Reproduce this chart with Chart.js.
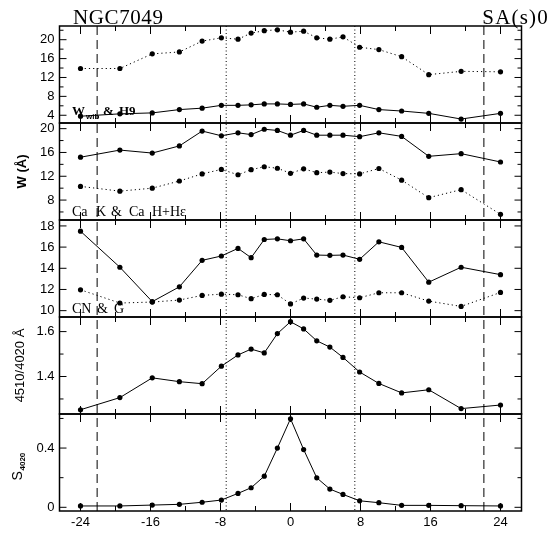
<!DOCTYPE html>
<html>
<head>
<meta charset="utf-8">
<script src="https://cdn.jsdelivr.net/npm/chart.js@4"></script>
<style>
  html, body { margin: 0; background: #fff; }
  #wrap { width: 550px; height: 533px; }
</style>
</head>
<body>
<div id="wrap"><canvas id="c"></canvas></div>
<script>
// radius along the slit (arcsec)
const radius = [-24, -19.5, -15.8, -12.7, -10.1, -7.9, -6.0, -4.5, -3.0, -1.5, 0, 1.5, 3.0, 4.5, 6.0, 7.9, 10.1, 12.7, 15.8, 19.5, 24];

// panel 1: W_wib & H9
const h9 = [13.9, 13.9, 17.0, 17.4, 19.7, 20.4, 20.1, 21.4, 21.9, 22.1, 21.6, 21.8, 20.4, 20.1, 20.6, 18.4, 17.9, 16.4, 12.6, 13.3, 13.2];
const wWib = [3.8, 4.3, 4.5, 5.2, 5.5, 6.1, 6.1, 6.2, 6.4, 6.4, 6.3, 6.4, 5.7, 6.1, 5.9, 6.1, 5.2, 4.9, 4.4, 3.2, 4.4];

// panel 2: Ca K & Ca H+He
const caK = [15.2, 16.4, 15.9, 17.1, 19.6, 18.8, 19.3, 19.0, 19.9, 19.7, 18.9, 19.7, 18.9, 18.9, 18.9, 18.65, 19.3, 18.7, 15.35, 15.8, 14.4];
const caH = [10.3, 9.5, 10.0, 11.2, 12.4, 13.15, 12.25, 13.1, 13.6, 13.35, 12.5, 13.25, 12.6, 12.7, 12.45, 12.4, 13.3, 11.35, 8.4, 9.75, 5.6];

// panel 3: CN & G
const cn = [17.5, 14.1, 10.85, 12.25, 14.75, 15.16, 15.88, 15.0, 16.72, 16.78, 16.6, 16.78, 15.25, 15.22, 15.25, 14.85, 16.5, 15.97, 12.69, 14.1, 13.4];
const gBand = [11.97, 10.72, 10.81, 11.0, 11.44, 11.56, 11.5, 11.13, 11.53, 11.5, 10.63, 11.19, 11.09, 10.97, 11.31, 11.22, 11.69, 11.69, 10.9, 10.4, 11.72];

// panel 4: 4510/4020 colour
const ratio = [1.252, 1.306, 1.394, 1.377, 1.368, 1.446, 1.496, 1.522, 1.505, 1.591, 1.644, 1.612, 1.559, 1.531, 1.485, 1.420, 1.369, 1.327, 1.341, 1.257, 1.273];

// panel 5: S4020
const s4020 = [0.009, 0.009, 0.015, 0.02, 0.034, 0.049, 0.094, 0.132, 0.21, 0.40, 0.598, 0.39, 0.199, 0.123, 0.087, 0.044, 0.031, 0.013, 0.013, 0.011, 0.009];

// ticks
const xTicks = [-24, -20, -16, -12, -8, -4, 0, 4, 8, 12, 16, 20, 24];
const xLabels = [-24, -16, -8, 0, 8, 16, 24];
const y1Ticks = [4, 6, 8, 10, 12, 14, 16, 18, 20, 22];
const y1Labels = [4, 8, 12, 16, 20];
const y2Ticks = [6, 8, 10, 12, 14, 16, 18, 20];
const y2Labels = [8, 12, 16, 20];
const y3Ticks = [10, 12, 14, 16, 18];
const y3Labels = [10, 12, 14, 16, 18];
const y4Ticks = [1.3, 1.4, 1.5, 1.6];
const y4Labels = [1.4, 1.6];
const y5Ticks = [0, 0.2, 0.4, 0.6];
const y5Labels = [0, 0.4];

// reference radii
const dashedAt = [-22.1, 22.1];
const dottedAt = [-7.35, 7.35];

const pts = arr => radius.map((r, i) => ({ x: r, y: arr[i] }));

function series(arr, axis, dotted) {
    return {
        data: pts(arr),
        yAxisID: axis,
        borderColor: '#000',
        borderWidth: 1,
        borderDash: dotted ? [1.2, 3] : [],
        pointRadius: 2.6,
        pointBackgroundColor: '#000',
        pointBorderWidth: 0,
        tension: 0,
        fill: false
    };
}

const has = (list, v) => list.some(t => Math.abs(t - v) < 1e-6);

function yAxis(min, max, ticks, labels, fmt) {
    return {
        type: 'linear',
        position: 'left',
        stack: 'panels',
        min: min,
        max: max,
        grid: { display: false, drawTicks: false },
        border: { display: false },
        afterBuildTicks: s => { s.ticks = ticks.map(v => ({ value: v })); },
        afterFit: s => { s.width = 59.5; },
        ticks: {
            autoSkip: false,
            padding: 5,
            color: '#000',
            font: { family: 'Liberation Sans', size: 13 },
            callback: v => has(labels, v) ? fmt(v) : ''
        }
    };
}

const panelTicks = {
    y1: [y1Ticks, y1Labels], y2: [y2Ticks, y2Labels], y3: [y3Ticks, y3Labels],
    y4: [y4Ticks, y4Labels], y5: [y5Ticks, y5Labels]
};

const framePlugin = {
    id: 'frames',
    beforeDatasetsDraw(chart) {
        const ctx = chart.ctx;
        const a = chart.chartArea;
        const xs = chart.scales.x;
        ctx.save();
        ctx.strokeStyle = '#000';
        ctx.lineWidth = 1;
        ctx.setLineDash([9, 5]);
        dashedAt.forEach(v => {
            const px = xs.getPixelForValue(v);
            ctx.beginPath(); ctx.moveTo(px, a.top); ctx.lineTo(px, a.bottom); ctx.stroke();
        });
        ctx.setLineDash([1, 2.5]);
        dottedAt.forEach(v => {
            const px = xs.getPixelForValue(v);
            ctx.beginPath(); ctx.moveTo(px, a.top); ctx.lineTo(px, a.bottom); ctx.stroke();
        });
        ctx.restore();
    },
    afterDraw(chart) {
        const ctx = chart.ctx;
        const a = chart.chartArea;
        const xs = chart.scales.x;
        ctx.save();
        ctx.strokeStyle = '#000';
        ctx.setLineDash([]);
        Object.keys(panelTicks).forEach(id => {
            const s = chart.scales[id];
            const [tv, lv] = panelTicks[id];
            ctx.lineWidth = 1.5;
            ctx.strokeRect(a.left, s.top, a.right - a.left, s.bottom - s.top);
            ctx.lineWidth = 1;
            ctx.beginPath();
            xTicks.forEach(v => {
                const px = xs.getPixelForValue(v);
                const len = has(xLabels, v) ? 8 : 5;
                ctx.moveTo(px, s.top); ctx.lineTo(px, s.top + len);
                ctx.moveTo(px, s.bottom); ctx.lineTo(px, s.bottom - len);
            });
            tv.forEach(v => {
                const py = s.getPixelForValue(v);
                const len = has(lv, v) ? 7 : 4;
                ctx.moveTo(a.left, py); ctx.lineTo(a.left + len, py);
                ctx.moveTo(a.right, py); ctx.lineTo(a.right - len, py);
            });
            ctx.stroke();
        });

        ctx.fillStyle = '#000';
        // header
        ctx.font = '21px "Liberation Serif"';
        ctx.textBaseline = 'alphabetic';
        ctx.letterSpacing = '0.6px';
        ctx.textAlign = 'left';
        ctx.fillText('NGC7049', 73, 24);
        ctx.textAlign = 'right';
        ctx.letterSpacing = '1.2px';
        ctx.fillText('SA(s)0', 549, 24);
        ctx.letterSpacing = '0px';

        // panel labels
        ctx.textAlign = 'left';
        ctx.textBaseline = 'middle';
        const p1 = chart.scales.y1, p2 = chart.scales.y2, p3 = chart.scales.y3;
        ctx.font = 'bold 13px "Liberation Serif"';
        ctx.fillText('W', 72, p1.bottom - 11);
        ctx.font = 'bold 8px "Liberation Sans"';
        ctx.fillText('wib', 86, p1.bottom - 6);
        ctx.font = 'bold 13px "Liberation Serif"';
        ctx.fillText('&', 103, p1.bottom - 11);
        ctx.fillText('H9', 119, p1.bottom - 11);

        ctx.font = '14px "Liberation Serif"';
        ctx.fillText('Ca', 72, p2.bottom - 8);
        ctx.fillText('K', 96, p2.bottom - 8);
        ctx.fillText('&', 111, p2.bottom - 8);
        ctx.fillText('Ca', 129, p2.bottom - 8);
        ctx.fillText('H+H\u03b5', 152, p2.bottom - 8);

        ctx.fillText('CN', 72, p3.bottom - 8);
        ctx.fillText('&', 97, p3.bottom - 8);
        ctx.fillText('G', 114, p3.bottom - 8);

        // axis titles
        const p4 = chart.scales.y4, p5 = chart.scales.y5;
        ctx.textAlign = 'center';
        ctx.save();
        ctx.translate(22, (p2.top + p2.bottom) / 2);
        ctx.rotate(-Math.PI / 2);
        ctx.font = 'bold 13px "Liberation Sans"';
        ctx.fillText('W (\u00c5)', 0, 0);
        ctx.restore();

        ctx.save();
        ctx.translate(20, (p4.top + p4.bottom) / 2);
        ctx.rotate(-Math.PI / 2);
        ctx.font = '13px "Liberation Sans"';
        ctx.fillText('4510/4020 \u00c5', 0, 0);
        ctx.restore();

        ctx.save();
        ctx.translate(18, (p5.top + p5.bottom) / 2);
        ctx.rotate(-Math.PI / 2);
        ctx.textAlign = 'left';
        ctx.font = '14px "Liberation Sans"';
        ctx.fillText('S', -18, 0);
        ctx.font = 'bold 8px "Liberation Sans"';
        ctx.fillText('4020', -8, 5);
        ctx.restore();

        ctx.restore();
    }
};

new Chart(document.getElementById('c'), {
    type: 'line',
    data: {
        datasets: [
            series(h9, 'y1', true),
            series(wWib, 'y1', false),
            series(caK, 'y2', false),
            series(caH, 'y2', true),
            series(cn, 'y3', false),
            series(gBand, 'y3', true),
            series(ratio, 'y4', false),
            series(s4020, 'y5', false)
        ]
    },
    options: {
        responsive: true,
        maintainAspectRatio: false,
        animation: false,
        layout: { padding: { top: 26, right: 28.5, left: 0, bottom: 0 } },
        plugins: { legend: { display: false }, tooltip: { enabled: false } },
        scales: {
            x: {
                type: 'linear',
                min: -26.4,
                max: 26.4,
                grid: { display: false, drawTicks: false },
                border: { display: false },
                afterBuildTicks: s => { s.ticks = xTicks.map(v => ({ value: v })); },
                afterFit: s => { s.height = 22; },
                ticks: {
                    autoSkip: false,
                    maxRotation: 0,
                    padding: 4,
                    color: '#000',
                    font: { family: 'Liberation Sans', size: 13 },
                    callback: v => has(xLabels, v) ? String(v) : ''
                }
            },
            y5: yAxis(-0.025, 0.63, y5Ticks, y5Labels, v => v === 0 ? '0' : v.toFixed(1)),
            y4: yAxis(1.233, 1.665, y4Ticks, y4Labels, v => v.toFixed(1)),
            y3: yAxis(9.4, 18.56, y3Ticks, y3Labels, v => String(v)),
            y2: yAxis(4.65, 20.95, y2Ticks, y2Labels, v => String(v)),
            y1: yAxis(2.36, 22.9, y1Ticks, y1Labels, v => String(v))
        }
    },
    plugins: [framePlugin]
});
</script>
</body>
</html>
